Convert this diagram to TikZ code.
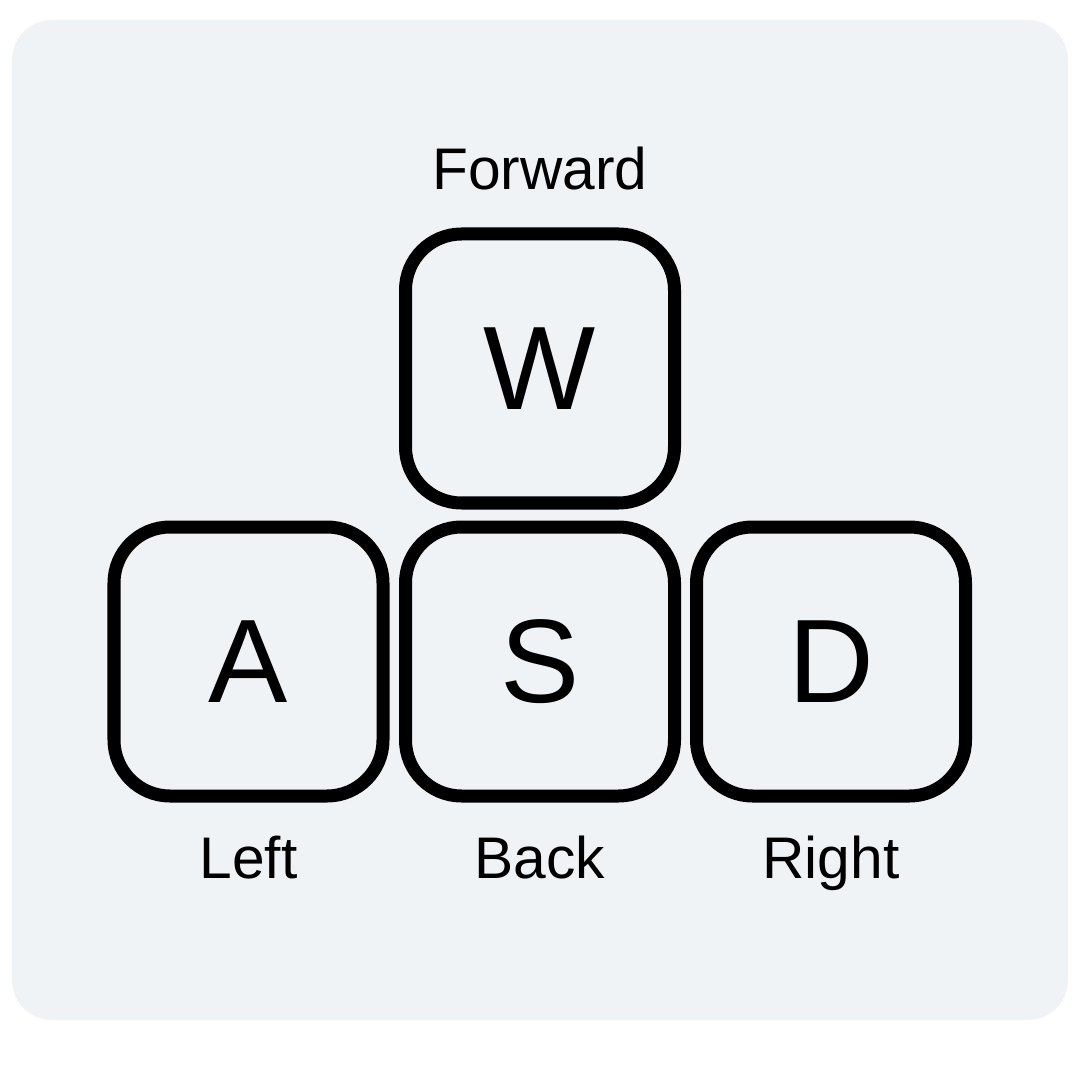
\documentclass[tikz,border=0pt]{standalone}
\usepackage{fontspec}
\setmainfont{Liberation Sans}
\usetikzlibrary{positioning}
\definecolor{panel}{HTML}{F0F3F6}
\tikzset{
  key/.style={draw=black, line width=3.7pt, rounded corners=0.56cm,
    minimum width=2.69cm, minimum height=2.69cm, inner sep=0pt,
    font=\fontsize{33.8}{40}\selectfont},
  keylabel/.style={font=\fontsize{16.7}{20}\selectfont, anchor=base, inner sep=0pt}
}
\begin{document}
\begin{tikzpicture}[x=1cm,y=-1cm]
\useasboundingbox (0,0) rectangle (10.8,10.8);
\fill[panel, rounded corners=0.4cm] (0.12,0.20) rectangle (10.68,10.20);
% keys
\node[key] (w) at (5.40,3.685) {W};
\node[key] (a) at (2.485,6.615) {A};
\node[key] (s) at (5.40,6.615) {S};
\node[key] (d) at (8.31,6.615) {D};
% labels
\node[keylabel] (fwd) at ([yshift=0.375cm]w.north) {Forward};
\node[keylabel] (left) at ([yshift=-0.755cm]a.south) {Left};
\node[keylabel] (back) at ([yshift=-0.755cm]s.south) {Back};
\node[keylabel] (right) at ([yshift=-0.755cm]d.south) {Right};
\end{tikzpicture}
\end{document}
